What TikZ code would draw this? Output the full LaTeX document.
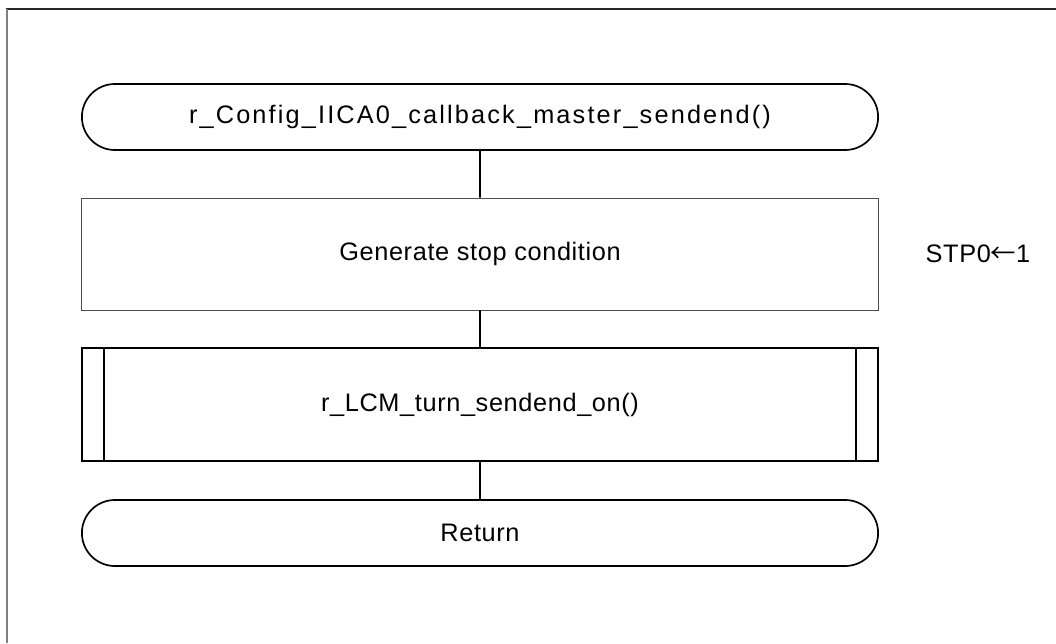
\documentclass[tikz,border=0pt]{standalone}
\usepackage{fontspec}
\setmainfont{Liberation Sans}[LetterSpace=2.5]
\newfontfamily\cjkfont{Noto Sans CJK JP}
\usetikzlibrary{calc,shapes.misc}
\tikzset{
	terminal/.style={draw, rounded rectangle, line width=1.2pt, inner sep=0pt, minimum width=19.9cm, minimum height=1.65cm},
	procbox/.style={draw, rectangle, line width=0.6pt, draw=black!70, inner sep=0pt, minimum width=19.9cm, minimum height=2.8cm},
	subbox/.style={draw, rectangle, line width=1.2pt, inner sep=0pt, minimum width=19.9cm, minimum height=2.825cm},
	flow/.style={line width=1.2pt}
}
\begin{document}
\begin{tikzpicture}[x=0.025cm, y=-0.025cm, font=\fontsize{18}{21}\selectfont]
		%%%%% START %%%%%
		\useasboundingbox (0, 0) rectangle (1056, 643);
		
		% frame
		\draw[line width=0.8pt, color=black!85] (6, 9) -- (1056, 9);
		\draw[line width=1.2pt, color=black!50] (7, 9) -- (7, 643);
		
		\node[terminal] (start) at (480, 117) {\addfontfeature{LetterSpace=8.5}r\_Config\_IICA0\_callback\_master\_sendend()};
		\node[procbox] (stop) at (480, 254) {Generate stop condition};
		\node (stpnote) at (978, 254) {STP0{\cjkfont ←}1};
		\node[subbox] (turnon) at (480, 404.5) {r\_LCM\_turn\_sendend\_on()};
		\draw[line width=1.2pt] ($(turnon.north west)+(23, 0)$) -- ($(turnon.south west)+(23, 0)$);
		\draw[line width=1.2pt] ($(turnon.north east)+(-23, 0)$) -- ($(turnon.south east)+(-23, 0)$);
		\node[terminal] (ret) at (480, 533) {Return};
		
		\draw[flow] (start) -- (stop);
		\draw[flow] (stop) -- (turnon);
		\draw[flow] (turnon) -- (ret);
		
		%%%%% END %%%%%
\end{tikzpicture}
\end{document}
